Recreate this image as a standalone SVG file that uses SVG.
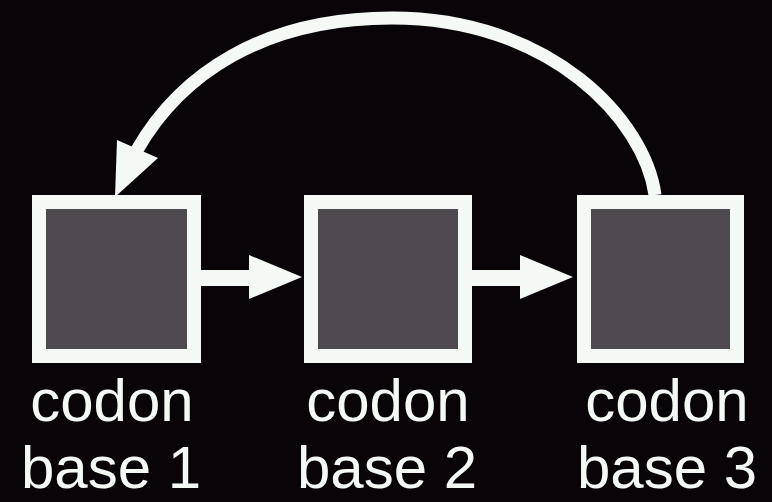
<svg xmlns="http://www.w3.org/2000/svg" width="772" height="502" viewBox="0 0 772 502">
<style>
.box{fill:#4e484f;stroke:#f4f9f5;stroke-width:14}
.lbl{font-family:"Liberation Sans",Arial,sans-serif;font-size:60px;fill:#f4f9f5;text-anchor:middle}
.con{fill:#f4f9f5;stroke:none}
</style>
<rect width="772" height="502" fill="#080408"/>
<g id="connectors">
<path d="M655 195 C645 120 550 18 392 18 C262 18 180 75 137 150" fill="none" stroke="#f4f9f5" stroke-width="13"/>
<polygon class="con" points="115,197 117,140 158,158"/>
<polygon class="con" points="201,270 249,270 249,255 302,277 249,299 249,286 201,286"/>
<polygon class="con" points="472,270 520,270 520,255 573,277 520,299 520,286 472,286"/>
</g>
<g id="node1">
<rect class="box" x="39" y="202" width="155" height="154"/>
<text class="lbl" x="112" y="421">codon</text>
<text class="lbl" x="111" y="488">base 1</text>
</g>
<g id="node2">
<rect class="box" x="311" y="202" width="154" height="154"/>
<text class="lbl" x="388" y="421">codon</text>
<text class="lbl" x="387" y="488">base 2</text>
</g>
<g id="node3">
<rect class="box" x="584" y="202" width="153" height="154"/>
<text class="lbl" x="667" y="421">codon</text>
<text class="lbl" x="667" y="488">base 3</text>
</g>
</svg>
